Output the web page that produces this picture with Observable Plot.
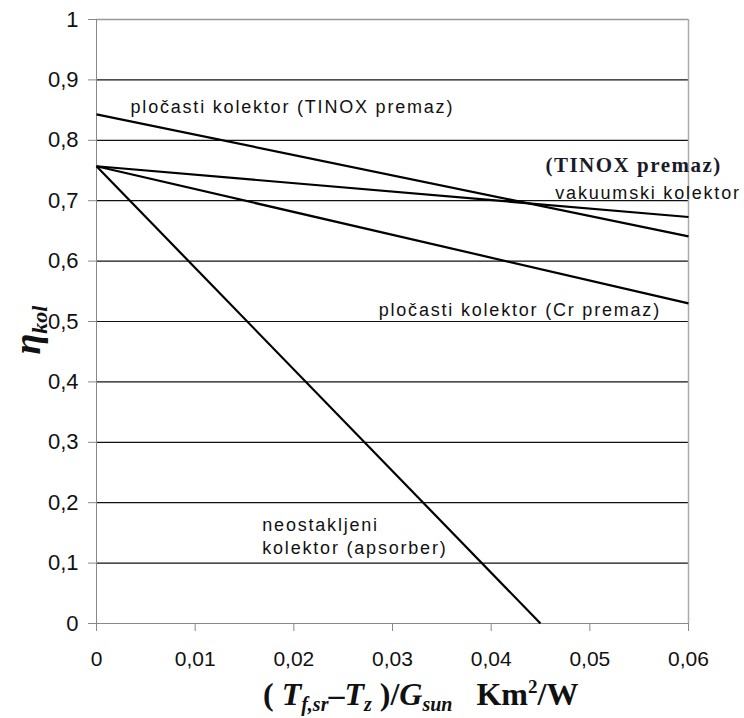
<!DOCTYPE html>
<html><head><meta charset="utf-8">
<script src="https://cdn.jsdelivr.net/npm/d3@7"></script>
<script src="https://cdn.jsdelivr.net/npm/@observablehq/plot@0.6"></script>
<style>body{margin:0;background:#fff}#chart svg{display:block}</style>
</head><body><div id="chart"></div>
<script>
const seriesNames = ["pločasti kolektor (TINOX premaz)", "vakuumski kolektor (TINOX premaz)", "pločasti kolektor (Cr premaz)", "neostakljeni kolektor (apsorber)"];
const xStart = [0, 0, 0, 0];
const yStart = [0.843, 0.757, 0.757, 0.757];
const xEnd = [0.06, 0.06, 0.06, 0.045];
const yEnd = [0.641, 0.673, 0.530, 0];
const xTicks = [0, 0.01, 0.02, 0.03, 0.04, 0.05, 0.06];
const yTicks = [0, 0.1, 0.2, 0.3, 0.4, 0.5, 0.6, 0.7, 0.8, 0.9, 1];
const gridValues = [0.1, 0.2, 0.3, 0.4, 0.5, 0.6, 0.7, 0.8, 0.9];
const labelTexts = ["pločasti kolektor (TINOX premaz)", "(TINOX premaz)", "vakuumski kolektor", "pločasti kolektor (Cr premaz)", "neostakljeni", "kolektor (apsorber)"];

const fmt = d => String(+d.toFixed(2)).replace(".", ",");
const segs = seriesNames.map((s, i) => ({s, x1: xStart[i], y1: yStart[i], x2: xEnd[i], y2: yEnd[i]}));
const sans = "'Liberation Sans', Arial, sans-serif";
const serif = "'Liberation Serif', 'Times New Roman', serif";

const chart = Plot.plot({
  width: 744, height: 718,
  marginLeft: 96, marginRight: 56, marginTop: 19, marginBottom: 95,
  style: {fontFamily: sans, color: "#111", background: "#fff"},
  x: {domain: [0, 0.06]},
  y: {domain: [0, 1]},
  marks: [
    Plot.ruleY(gridValues, {stroke: "#111", strokeWidth: 1.2}),
    Plot.ruleY([1], {stroke: "#999", strokeWidth: 1.5}),
    Plot.ruleX([0.06], {stroke: "#aaa", strokeWidth: 1.5}),
    Plot.ruleX([0], {stroke: "#888", strokeWidth: 1}),
    Plot.ruleY([0], {stroke: "#888", strokeWidth: 1}),
    Plot.axisY({ticks: yTicks, tickFormat: fmt, tickSize: 8, tickPadding: 10, fontSize: 22, label: null, stroke: "#888"}),
    Plot.axisX({ticks: xTicks, tickFormat: fmt, tickSize: 8, tickPadding: 20, fontSize: 21, label: null, stroke: "#888"}),
    Plot.link(segs, {x1: "x1", y1: "y1", x2: "x2", y2: "y2", stroke: "#000", strokeWidth: 2.2}),
    Plot.text([labelTexts[0]], {x: 0.00345, y: 0.854, text: d => d, textAnchor: "start", lineAnchor: "middle", fontSize: 18, fill: "#111", className: "lbl"}),
    Plot.text([labelTexts[1]], {x: 0.0455, y: 0.758, text: d => d, textAnchor: "start", lineAnchor: "middle", fontSize: 21, fontWeight: "bold", fontFamily: serif, fill: "#1a1a2a", className: "lblb"}),
    Plot.text([labelTexts[2]], {x: 0.0465, y: 0.712, text: d => d, textAnchor: "start", lineAnchor: "middle", fontSize: 18, fill: "#111", className: "lbl"}),
    Plot.text([labelTexts[3]], {x: 0.0286, y: 0.518, text: d => d, textAnchor: "start", lineAnchor: "middle", fontSize: 18, fill: "#111", className: "lbl"}),
    Plot.text([labelTexts[4]], {x: 0.0168, y: 0.162, text: d => d, textAnchor: "start", lineAnchor: "middle", fontSize: 18, fill: "#111", className: "lbl"}),
    Plot.text([labelTexts[5]], {x: 0.0168, y: 0.124, text: d => d, textAnchor: "start", lineAnchor: "middle", fontSize: 18, fill: "#111", className: "lbl"})
  ]
});
document.getElementById("chart").appendChild(chart);

const svg = d3.select(chart);
svg.selectAll(".lbl text").style("letter-spacing", "1.8px");
svg.selectAll(".lblb text").style("letter-spacing", "1.5px");

// x axis label
const xl = svg.append("text").attr("x", 263).attr("y", 705).attr("text-anchor", "start")
  .attr("font-family", serif).attr("font-weight", "bold").attr("font-size", 32).attr("fill", "#111");
xl.append("tspan").text("( ");
xl.append("tspan").attr("font-style", "italic").text("T");
xl.append("tspan").attr("font-style", "italic").attr("font-size", 20).attr("dy", 6).text("f,sr");
xl.append("tspan").attr("dy", -6).text("–");
xl.append("tspan").attr("font-style", "italic").text("T");
xl.append("tspan").attr("font-style", "italic").attr("font-size", 20).attr("dy", 6).text("z");
xl.append("tspan").attr("dy", -6).text(" )/");
xl.append("tspan").attr("font-style", "italic").text("G");
xl.append("tspan").attr("font-style", "italic").attr("font-size", 20).attr("dy", 6).text("sun");
xl.append("tspan").attr("dy", -6).text("\u00a0\u00a0\u00a0Km");
xl.append("tspan").attr("font-size", 19).attr("dy", -12).text("2");
xl.append("tspan").attr("dy", 12).text("/W");

// y axis label
const yl = svg.append("text").attr("transform", "translate(40,330) rotate(-90)")
  .attr("text-anchor", "middle").attr("font-family", serif).attr("font-style", "italic").attr("font-weight", "bold").attr("fill", "#111");
yl.append("tspan").attr("font-size", 38).text("η");
yl.append("tspan").attr("font-size", 22).attr("dy", 7).text("kol");
</script>
</body></html>
